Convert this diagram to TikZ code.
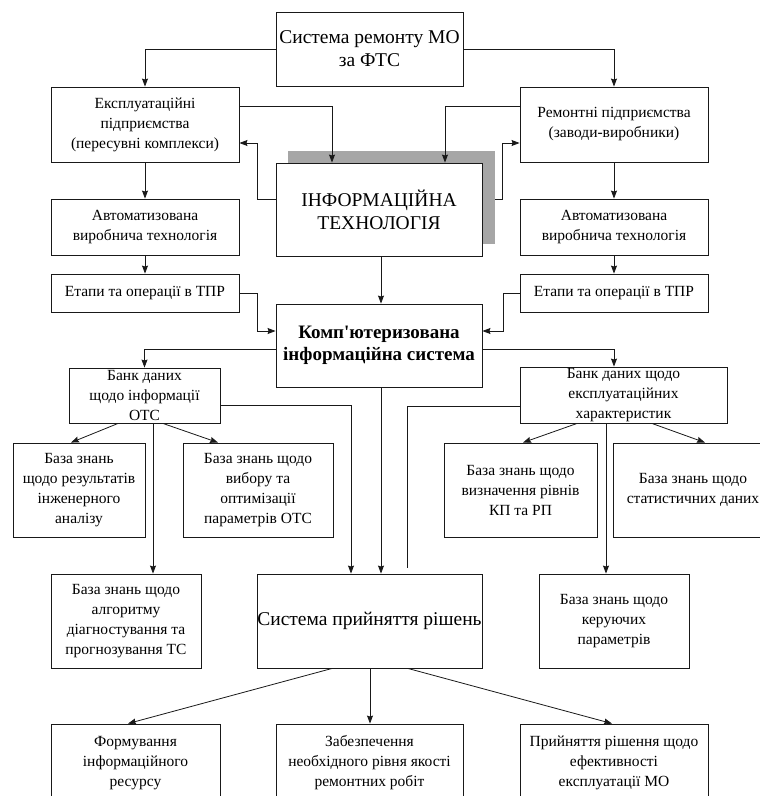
\documentclass[tikz,border=0pt]{standalone}
\usepackage{fontspec}
\setmainfont{Liberation Serif}
\usetikzlibrary{arrows.meta,calc}
\tikzset{
  box/.style={draw=black!90, line width=0.9pt, fill=white, align=center, inner sep=0pt,
    font=\fontsize{15.5}{20}\selectfont},
  bigtxt/.style={font=\fontsize{19.5}{23}\selectfont},
  boldtxt/.style={font=\fontsize{19}{22}\selectfont\bfseries},
  conn/.style={draw=black!90, line width=0.8pt},
  arr/.style={conn, -{Stealth[length=8pt,width=6pt,inset=1pt]}},
  shadowbox/.style={fill=black!35, draw=none}
}
\begin{document}
\begin{tikzpicture}[x=1pt,y=-1pt]
\useasboundingbox (0,0) rectangle (760,796);
\fill[white] (0,0) rectangle (760,796);

% boxes
\node[box,bigtxt,minimum width=187pt,minimum height=74pt] (top) at (369.5,49) {Система ремонту МО\\за ФТС};
\node[box,minimum width=188pt,minimum height=75pt] (lent) at (145,124.5) {Експлуатаційні\\підприємства\\(пересувні комплекси)};
\node[box,minimum width=188pt,minimum height=75pt] (rrem) at (614,124.5) {Ремонтні підприємства\\(заводи-виробники)};

% connector from IT east drawn under the shadow
\coordinate (itR) at (502,199);
\draw[arr] (379+103,199) -- (itR) |- (rrem.west |- 0,143);

\fill[shadowbox] (288,151) rectangle (495,244);
\node[box,bigtxt,minimum width=206pt,minimum height=93pt] (it) at (379,209.5) {ІНФОРМАЦІЙНА\\ТЕХНОЛОГІЯ};

\node[box,minimum width=188pt,minimum height=56pt] (lauto) at (145,227) {Автоматизована\\виробнича технологія};
\node[box,minimum width=188pt,minimum height=56pt] (rauto) at (614,227) {Автоматизована\\виробнича технологія};
\node[box,minimum width=188pt,minimum height=38pt] (letap) at (145,293) {Етапи та операції в ТПР};
\node[box,minimum width=188pt,minimum height=38pt] (retap) at (614,293) {Етапи та операції в ТПР};
\node[box,boldtxt,minimum width=206pt,minimum height=83pt] (kis) at (379,345.5) {Комп\textquotesingle ютеризована\\інформаційна система};
\node[box,minimum width=151pt,minimum height=55pt] (lbank) at (144.5,395.5) {Банк даних\\щодо інформації\\ОТС};
\node[box,minimum width=207pt,minimum height=56pt] (rbank) at (623.5,395) {Банк даних щодо\\експлуатаційних\\характеристик};
\node[box,minimum width=132pt,minimum height=94pt] (kb1) at (79,490) {База знань\\щодо результатів\\інженерного\\аналізу};
\node[box,minimum width=150pt,minimum height=94pt] (kb2) at (258,490) {База знань щодо\\вибору та\\оптимізації\\параметрів ОТС};
\node[box,minimum width=150pt,minimum height=94pt] (kb3) at (126,621) {База знань щодо\\алгоритму\\діагностування та\\прогнозування ТС};
\node[box,minimum width=153pt,minimum height=94pt] (kb4) at (520.5,490) {База знань щодо\\визначення рівнів\\КП та РП};
\node[box,minimum width=160pt,minimum height=94pt] (kb5) at (693,490) {База знань щодо\\статистичних даних};
\node[box,minimum width=150pt,minimum height=94pt] (kb6) at (614,621) {База знань щодо\\керуючих\\параметрів};
\node[box,bigtxt,minimum width=225pt,minimum height=94pt] (spr) at (369.5,621) {Система прийняття рішень};
\node[box,minimum width=169pt,minimum height=78pt] (b1) at (135.5,763) {Формування\\інформаційного\\ресурсу};
\node[box,minimum width=187pt,minimum height=78pt] (b2) at (369.5,763) {Забезпечення\\необхідного рівня якості\\ремонтних робіт};
\node[box,minimum width=188pt,minimum height=78pt] (b3) at (614,763) {Прийняття рішення щодо\\ефективності\\експлуатації МО};

% connectors
\draw[arr] (top.west) -| (lent.north);
\draw[arr] (top.east) -| (rrem.north);
\draw[arr] (lent.east |- 0,106) -| (it.north -| 332,0);
\draw[arr] (rrem.west |- 0,106) -| (it.north -| 445,0);
\coordinate (itL) at (257,199);
\draw[arr] (it.west |- 0,199) -- (itL) |- (lent.east |- 0,143);
\draw[arr] (lent.south) -- (lauto.north);
\draw[arr] (rrem.south) -- (rauto.north);
\draw[arr] (lauto.south) -- (letap.north);
\draw[arr] (rauto.south) -- (retap.north);
\draw[arr] (it.south -| 381,0) -- (kis.north -| 381,0);
\coordinate (etL) at (257,293);
\coordinate (etR) at (503,293);
\draw[arr] (letap.east) -- (etL) |- (kis.west |- 0,331);
\draw[arr] (retap.west) -- (etR) |- (kis.east |- 0,331);
\draw[arr] (kis.west |- 0,349) -| (lbank.north);
\draw[arr] (kis.east |- 0,349) -| (rbank.north -| 614,0);
\draw[arr] (lbank.south -| 118,0) -- (kb1.north -| 71,0);
\draw[arr] (lbank.south -| 163,0) -- (kb2.north -| 218,0);
\draw[arr] (lbank.south -| 153,0) -- (kb3.north -| 153,0);
\draw[arr] (lbank.east |- 0,405) -| (spr.north -| 351,0);
\draw[arr] (kis.south -| 381,0) -- (spr.north -| 381,0);
\coordinate (rend) at (407,568);
\draw[conn] (rbank.west |- 0,406) -| (rend);
\draw[arr] (rbank.south -| 577,0) -- (kb4.north -| 523,0);
\draw[arr] (rbank.south -| 652,0) -- (kb5.north -| 705,0);
\draw[arr] (rbank.south -| 606,0) -- (kb6.north -| 606,0);
\draw[arr] (spr.south -| 332,0) -- (b1.north -| 128,0);
\draw[arr] (spr.south -| 370,0) -- (b2.north -| 370,0);
\draw[arr] (spr.south -| 408,0) -- (b3.north -| 612,0);
\end{tikzpicture}
\end{document}
